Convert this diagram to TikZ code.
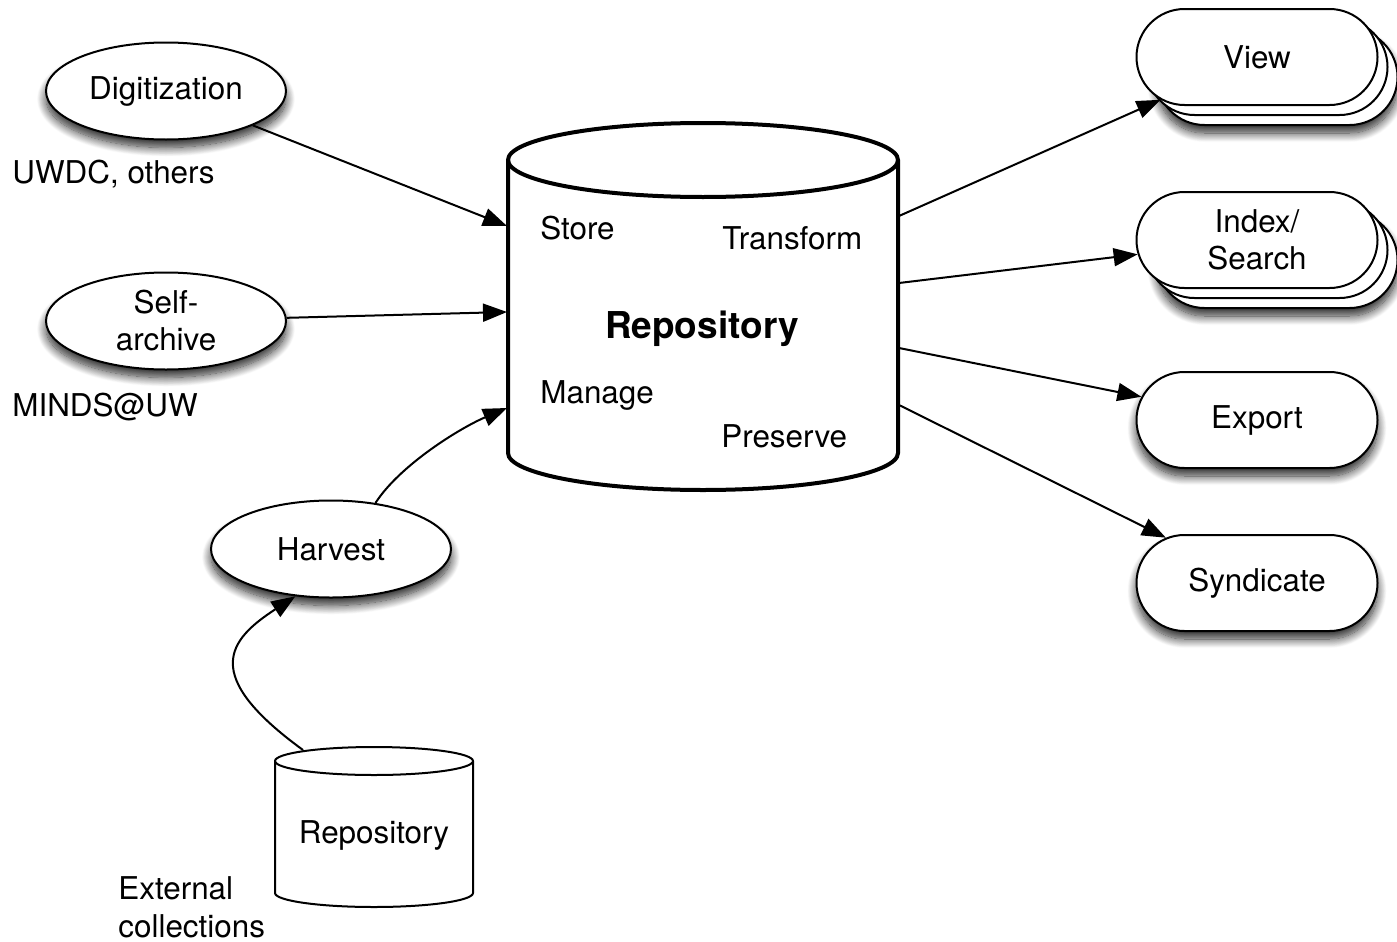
\documentclass[tikz,border=0pt]{standalone}
\usepackage{fontspec}
\setmainfont{TeX Gyre Heros}
\usetikzlibrary{shapes.geometric,shapes.misc,arrows.meta,shadows,shadows.blur}
\begin{document}
\begin{tikzpicture}[x=0.5pt,y=-0.5pt,
  font=\fontsize{15.7pt}{18.5pt}\selectfont,
  softshadow/.style={blur shadow={shadow xshift=0pt,shadow yshift=-4pt,shadow blur radius=4.5pt,shadow blur steps=14,shadow opacity=85}},
  stackshadow/.style={blur shadow={shadow xshift=10pt,shadow yshift=-14pt,shadow blur radius=4.5pt,shadow blur steps=14,shadow opacity=85}},
  proc/.style={ellipse, draw, line width=1pt, fill=white, minimum width=120pt, minimum height=48.5pt, inner sep=0pt, align=center, softshadow},
  outbox/.style={rounded rectangle, draw, line width=1pt, fill=white, minimum width=120.5pt, minimum height=48pt, inner sep=0pt, align=center},
  stacked/.style={outbox, stackshadow,
    copy shadow={shadow xshift=10pt,shadow yshift=-10pt,draw=black,fill=white,line width=1pt},
    copy shadow={shadow xshift=5pt,shadow yshift=-5pt,draw=black,fill=white,line width=1pt}},
  single/.style={outbox, softshadow},
  flow/.style={line width=1pt, -{Triangle[length=12pt,width=9pt]}},
  lbl/.style={inner sep=0pt, anchor=base west},
  cylmain/.style={line width=2pt},
  cylsmall/.style={line width=1pt},
]
\useasboundingbox (0,0) rectangle (1397,942);

% main repository cylinder
\draw[cylmain, fill=white] (508,160) -- (508,453)
  arc[start angle=180,end angle=360,x radius=97.5pt,y radius=18.5pt] -- (898,160)
  arc[start angle=0,end angle=180,x radius=97.5pt,y radius=18.5pt] -- cycle;
\draw[cylmain] (508,160) arc[start angle=180,end angle=360,x radius=97.5pt,y radius=18.5pt];
\node[anchor=base, inner sep=0pt, font=\bfseries\fontsize{18.5pt}{20pt}\selectfont] (repo) at (702,338) {Repository};
\node[lbl] (store) at (540,239) {Store};
\node[lbl] (transf) at (722,249) {Transform};
\node[lbl] (manage) at (540,403) {Manage};
\node[lbl] (preserve) at (721,447) {Preserve};
\coordinate (in1) at (507,226);
\coordinate (in2) at (507,312);
\coordinate (in3) at (507,408);
\coordinate (out1) at (899,216);
\coordinate (out2) at (899,283);
\coordinate (out3) at (899,348);
\coordinate (out4) at (899,405);

% external repository cylinder
\draw[cylsmall, fill=white] (275,761) -- (275,893)
  arc[start angle=180,end angle=360,x radius=49.5pt,y radius=7pt] -- (473,761)
  arc[start angle=0,end angle=180,x radius=49.5pt,y radius=7pt] -- cycle;
\draw[cylsmall] (275,761) arc[start angle=180,end angle=360,x radius=49.5pt,y radius=7pt];
\node[anchor=base, inner sep=0pt] (extrepo) at (374,843) {Repository};
\coordinate (extop) at (303,750);

% sources
\node[proc] (dig) at (166,91) {Digitization};
\node[proc] (self) at (166,321) {Self-\\archive};
\node[proc] (harv) at (331,549) {Harvest};
\node[lbl] (uwdc) at (12,183) {UWDC, others};
\node[lbl] (minds) at (12,416) {MINDS@UW};
\node[lbl] (ext1) at (118,899) {External};
\node[lbl] (ext2) at (118,937) {collections};

% outputs
\node[stacked] (view) at (1257,57) {View};
\node[stacked] (index) at (1257,240) {Index/\\Search};
\node[single] (export) at (1257,420) {Export};
\node[single] (synd) at (1257,583) {Syndicate};

% connectors
\draw[flow] (dig) -- (in1);
\draw[flow] (self) -- (in2);
\draw[flow] (harv.46) .. controls (400,465) and (460,428) .. (in3);
\draw[flow] (extop) .. controls (200,675) and (228,640) .. (harv.233);
\draw[flow] (out1) -- (view);
\draw[flow] (out2) -- (index);
\draw[flow] (out3) -- (export);
\draw[flow] (out4) -- (synd);
\end{tikzpicture}
\end{document}
